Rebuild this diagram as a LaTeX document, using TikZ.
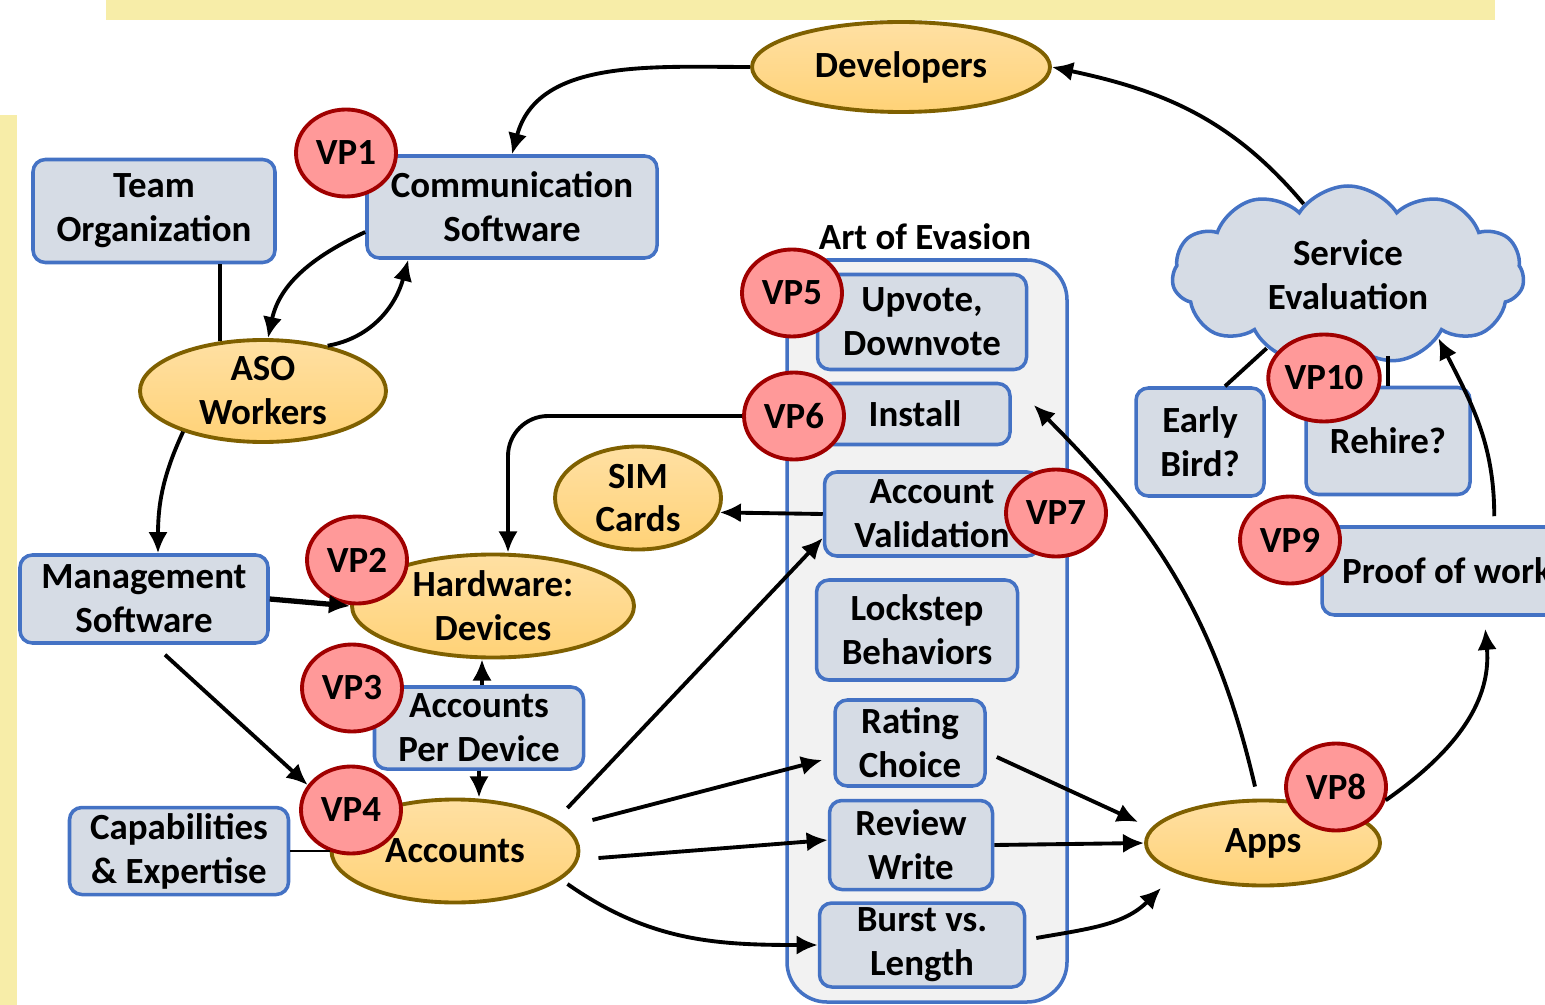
\documentclass[tikz,border=0pt]{standalone}
\usepackage{fontspec}
\setmainfont{Carlito}
\usetikzlibrary{shapes.geometric,shapes.symbols,arrows.meta}
\definecolor{boxfill}{HTML}{D6DCE5}
\definecolor{boxline}{HTML}{4472C4}
\definecolor{ovaltop}{HTML}{FFE0A3}
\definecolor{ovalbot}{HTML}{FFD277}
\definecolor{ovalline}{HTML}{7F6000}
\definecolor{vpfill}{HTML}{FF9999}
\definecolor{vpline}{HTML}{A00000}
\definecolor{band}{HTML}{F7EDA8}
\definecolor{artfill}{HTML}{F2F2F2}
\newcommand{\nodefont}{\fontsize{10.5}{12.5}\selectfont\bfseries}

\begin{document}
\begin{tikzpicture}
\tikzstyle{box}=[draw=boxline,fill=boxfill,line width=1pt,rounded corners=3.5pt,align=center,inner sep=0pt,font=\nodefont]
\tikzstyle{oval}=[ellipse,draw=ovalline,line width=1.1pt,top color=ovaltop,bottom color=ovalbot,align=center,inner sep=0pt,font=\nodefont]
\tikzstyle{vp}=[ellipse,draw=vpline,fill=vpfill,line width=1.1pt,minimum width=1cm,minimum height=0.87cm,inner sep=0pt,font=\nodefont]
\tikzstyle{arr}=[->,>={Latex[length=6pt,width=5.5pt]},line width=1.1pt]
\useasboundingbox (0,0) rectangle (15.45,-10.05);
\clip (0,0) rectangle (15.45,-10.05);

\fill[band] (1.06,0) rectangle (14.95,-0.2);
\fill[band] (0,-1.15) rectangle (0.17,-10.05);

\node[draw=boxline,fill=artfill,line width=1pt,rounded corners=0.4cm,minimum width=2.8cm,minimum height=7.42cm] at (9.27,-6.31) (art) {};
\node[font=\nodefont] at (9.25,-2.37) (artlbl) {Art of Evasion};

\node[box,minimum width=2.42cm,minimum height=1.03cm] at (1.54,-2.11) (team) {Team\\Organization};
\node[box,minimum width=2.9cm,minimum height=1.02cm] at (5.12,-2.07) (comm) {Communication\\Software};
\node[box,minimum width=2.48cm,minimum height=0.88cm] at (1.44,-5.99) (mgmt) {Management\\Software};
\node[box,minimum width=2.09cm,minimum height=0.82cm] at (4.79,-7.28) (apd) {Accounts\\Per Device};
\node[box,minimum width=2.19cm,minimum height=0.87cm] at (1.79,-8.51) (cap) {Capabilities\\\& Expertise};
\node[box,minimum width=2.09cm,minimum height=0.95cm] at (9.22,-3.22) (upv) {Upvote,\\Downvote};
\node[box,minimum width=1.9cm,minimum height=0.61cm] at (9.15,-4.14) (inst) {Install};
\node[box,minimum width=2.15cm,minimum height=0.84cm] at (9.32,-5.14) (aval) {Account\\Validation};
\node[box,minimum width=2.01cm,minimum height=1cm] at (9.17,-6.3) (lock) {Lockstep\\Behaviors};
\node[box,minimum width=1.5cm,minimum height=0.86cm] at (9.1,-7.43) (rate) {Rating\\Choice};
\node[box,minimum width=1.63cm,minimum height=0.89cm] at (9.11,-8.45) (rev) {Review\\Write};
\node[box,minimum width=2.05cm,minimum height=0.84cm] at (9.22,-9.45) (burst) {Burst vs.\\Length};
\node[box,minimum width=1.28cm,minimum height=1.08cm] at (12,-4.42) (early) {Early\\Bird?};
\node[box,minimum width=1.64cm,minimum height=1.07cm] at (13.88,-4.41) (rehire) {Rehire?};
\node[box,minimum width=2.5cm,minimum height=0.88cm] at (14.47,-5.71) (proof) {Proof of work};
\node[cloud,cloud puffs=11,cloud puff arc=115,cloud ignores aspect,draw=boxline,fill=boxfill,line width=1pt,minimum width=3.52cm,minimum height=1.78cm,align=center,inner sep=0pt,font=\nodefont] at (13.48,-2.75) (serv) {Service\\Evaluation};

\node[oval,minimum width=2.98cm,minimum height=0.9cm] at (9.01,-0.67) (dev) {Developers};
\node[oval,minimum width=2.46cm,minimum height=1.02cm] at (2.63,-3.91) (aso) {ASO\\Workers};
\node[oval,minimum width=2.82cm,minimum height=1.03cm] at (4.93,-6.06) (hw) {Hardware:\\Devices};
\node[oval,minimum width=1.66cm,minimum height=1.03cm] at (6.38,-4.98) (sim) {SIM\\Cards};
\node[oval,minimum width=2.47cm,minimum height=1.03cm] at (4.55,-8.51) (acc) {Accounts};
\node[oval,minimum width=2.34cm,minimum height=0.85cm] at (12.63,-8.43) (apps) {Apps};

\node[vp] at (3.46,-1.53) (vp1) {VP1};
\node[vp] at (3.57,-5.6) (vp2) {VP2};
\node[vp] at (3.52,-6.88) (vp3) {VP3};
\node[vp] at (3.51,-8.1) (vp4) {VP4};
\node[vp] at (7.92,-2.93) (vp5) {VP5};
\node[vp] at (7.94,-4.16) (vp6) {VP6};
\node[vp] at (10.56,-5.13) (vp7) {VP7};
\node[vp] at (13.36,-7.87) (vp8) {VP8};
\node[vp] at (12.9,-5.4) (vp9) {VP9};
\node[vp] at (13.24,-3.78) (vp10) {VP10};

\draw[arr] (dev.west) to[out=180,in=75] (comm.north);
\draw[arr] (serv.122) to[out=130,in=-12] (dev.east);
\draw[arr] ([yshift=-0.25cm]comm.west) to[out=205,in=78] ([xshift=0.05cm]aso.north);
\draw[arr] (aso.35) to[out=10,in=-105] ([xshift=0.43cm]comm.south west);
\draw[line width=1.1pt] (aso.131) -- (aso.131 |- team.south);
\draw[arr] (aso.207) to[out=245,in=90] ([xshift=0.14cm]mgmt.north);
\draw[arr,line width=1.5pt] (mgmt.east) -- (hw.west);
\draw[arr] ([shift={(0.21,-0.1)}]mgmt.south) -- (vp4.150);
\draw[arr,rounded corners=0.4cm] (vp6.west) -| ([xshift=0.15cm]hw.north);
\draw[arr] ([xshift=0.03cm]apd.north) -- ([xshift=0.03cm]apd.north |- hw.south);
\draw[arr] (apd.south) -- (apd.south |- acc.north);
\draw[line width=0.5pt] (cap.east) -- (acc.west);
\draw[arr] (aval.west) -- (sim.-10);
\draw[arr] ([shift={(-0.13,0.43)}]acc.east) -- ([yshift=-0.24cm]aval.west);
\draw[arr] ([shift={(0.12,0.31)}]acc.east) -- ([shift={(-0.11,-0.17)}]rate.west);
\draw[arr] ([shift={(0.18,-0.07)}]acc.east) -- ([yshift=0.05cm]rev.west);
\draw[arr] ([shift={(-0.13,-0.33)}]acc.east) to[out=-35,in=180] (burst.west);
\draw[arr] ([shift={(0.1,-0.14)}]rate.east) -- ([shift={(-0.06,0.21)}]apps.west);
\draw[arr] (rev.east) -- (apps.west);
\draw[arr] ([shift={(0.1,0.07)}]burst.east) to[out=10,in=-135] ([shift={(0.17,-0.45)}]apps.west);
\draw[arr] ([shift={(-0.08,0.12)}]apps.north) to[out=103,in=-45] ([shift={(0.22,0.09)}]inst.east);
\draw[arr] (vp8.-15) to[out=35,in=-85] ([shift={(1.65,-0.12)}]proof.south west);
\draw[arr] ([shift={(1.74,0.09)}]proof.north west) to[out=90,in=-63] (serv.-35);
\draw[line width=1.1pt] (serv.222) -- ([xshift=0.25cm]early.north);
\draw[line width=1.1pt] (rehire.north) -- ++(0,0.3);
\end{tikzpicture}
\end{document}
